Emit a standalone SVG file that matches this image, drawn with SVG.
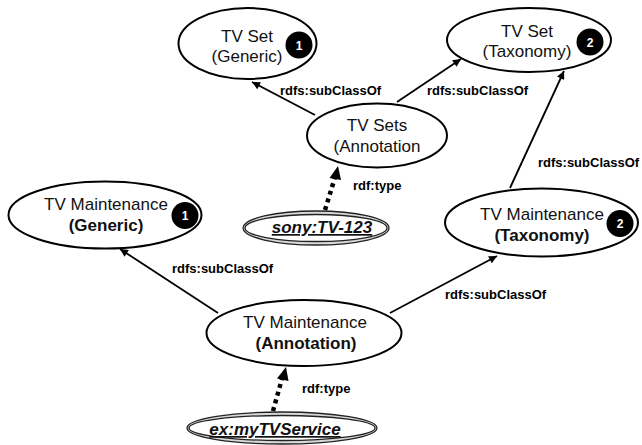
<svg xmlns="http://www.w3.org/2000/svg" width="642" height="445" viewBox="0 0 642 445">
<defs>
<style>
.node{fill:#fff;stroke:#000;stroke-width:2}
.dblo{fill:#d8d8d8;stroke:#222;stroke-width:1.3}
.dbli{fill:#fff;stroke:#222;stroke-width:1.3}
.t{font-family:"Liberation Sans",Arial,sans-serif;font-size:17px;fill:#111;text-anchor:middle}
.b{font-weight:bold}
.inst{font-family:"Liberation Sans",Arial,sans-serif;font-size:17px;font-weight:bold;font-style:italic;text-decoration:underline;fill:#111;text-anchor:middle}
.lbl{font-family:"Liberation Sans",Arial,sans-serif;font-size:13px;font-weight:bold;fill:#000}
.badge{fill:#000}
.bt{font-family:"Liberation Sans",Arial,sans-serif;font-size:12px;font-weight:bold;fill:#fff;text-anchor:middle}
.edge{stroke:#000;stroke-width:1.8;fill:none}
.dot{stroke:#000;stroke-width:4.5;fill:none;stroke-dasharray:4 4}
</style>
<marker id="ah" viewBox="0 0 10 10" refX="10" refY="5" markerWidth="10" markerHeight="8" markerUnits="userSpaceOnUse" orient="auto">
<path d="M0,0 L10,5 L0,10 z" fill="#000"/>
</marker>
</defs>

<g id="connectors">
<line class="edge" x1="315" y1="115" x2="252" y2="82" marker-end="url(#ah)"/>
<line class="edge" x1="397" y1="102" x2="461" y2="59" marker-end="url(#ah)"/>
<line class="edge" x1="510" y1="188" x2="564" y2="71" marker-end="url(#ah)"/>
<line class="dot" x1="325" y1="210" x2="336" y2="174"/>
<path d="M338,166 L329.5,178 L341,180 z" fill="#000"/>
<line class="edge" x1="218" y1="313" x2="120" y2="249" marker-end="url(#ah)"/>
<line class="edge" x1="390" y1="313" x2="497" y2="256" marker-end="url(#ah)"/>
<line class="dot" x1="273" y1="411" x2="283" y2="375"/>
<path d="M286,367 L277,378.5 L288.5,381 z" fill="#000"/>
<text class="lbl" x="280" y="95">rdfs:subClassOf</text>
<text class="lbl" x="427" y="95">rdfs:subClassOf</text>
<text class="lbl" x="353" y="190">rdf:type</text>
<text class="lbl" x="538" y="167">rdfs:subClassOf</text>
<text class="lbl" x="172" y="273">rdfs:subClassOf</text>
<text class="lbl" x="445" y="299">rdfs:subClassOf</text>
<text class="lbl" x="302" y="393">rdf:type</text>
</g>

<g id="tvset-generic">
<ellipse class="node" cx="247.5" cy="43.5" rx="69" ry="35.5"/>
<text class="t" x="247" y="42">TV Set</text>
<text class="t" x="247" y="62">(Generic)</text>
<circle class="badge" cx="299" cy="45" r="13.5"/>
<text class="bt" x="299" y="49.5">1</text>
</g>

<g id="tvset-taxonomy">
<ellipse class="node" cx="529" cy="40" rx="82" ry="32"/>
<text class="t" x="527" y="37">TV Set</text>
<text class="t" x="527" y="57">(Taxonomy)</text>
<circle class="badge" cx="590" cy="42" r="13.5"/>
<text class="bt" x="590" y="46.5">2</text>
</g>

<g id="tvsets-annotation">
<ellipse class="node" cx="377" cy="135.5" rx="70" ry="32"/>
<text class="t" x="377" y="131">TV Sets</text>
<text class="t" x="377" y="152">(Annotation</text>
</g>

<g id="sony-tv-123">
<ellipse class="dblo" cx="316" cy="228" rx="73" ry="17"/>
<ellipse class="dbli" cx="316" cy="228" rx="71" ry="13.5"/>
<text class="inst" x="322" y="233">sony:TV-123</text>
</g>

<g id="tvmaint-generic">
<ellipse class="node" cx="105" cy="215" rx="96.5" ry="33.5"/>
<text class="t" x="106" y="210">TV Maintenance</text>
<text class="t b" x="106" y="231">(Generic)</text>
<circle class="badge" cx="185" cy="215.5" r="13.5"/>
<text class="bt" x="185" y="220">1</text>
</g>

<g id="tvmaint-taxonomy">
<ellipse class="node" cx="541.5" cy="222.5" rx="96.5" ry="34"/>
<text class="t" x="542" y="220">TV Maintenance</text>
<text class="t b" x="542" y="241">(Taxonomy)</text>
<circle class="badge" cx="620" cy="223.5" r="13.5"/>
<text class="bt" x="620" y="228">2</text>
</g>

<g id="tvmaint-annotation">
<ellipse class="node" cx="304" cy="333" rx="97.5" ry="33"/>
<text class="t" x="305" y="328">TV Maintenance</text>
<text class="t b" x="306" y="349">(Annotation)</text>
</g>

<g id="ex-mytvservice">
<ellipse class="dblo" cx="282" cy="428" rx="95" ry="16"/>
<ellipse class="dbli" cx="282" cy="428" rx="93" ry="12.5"/>
<text class="inst" x="275" y="435">ex:myTVService</text>
</g>
</svg>
